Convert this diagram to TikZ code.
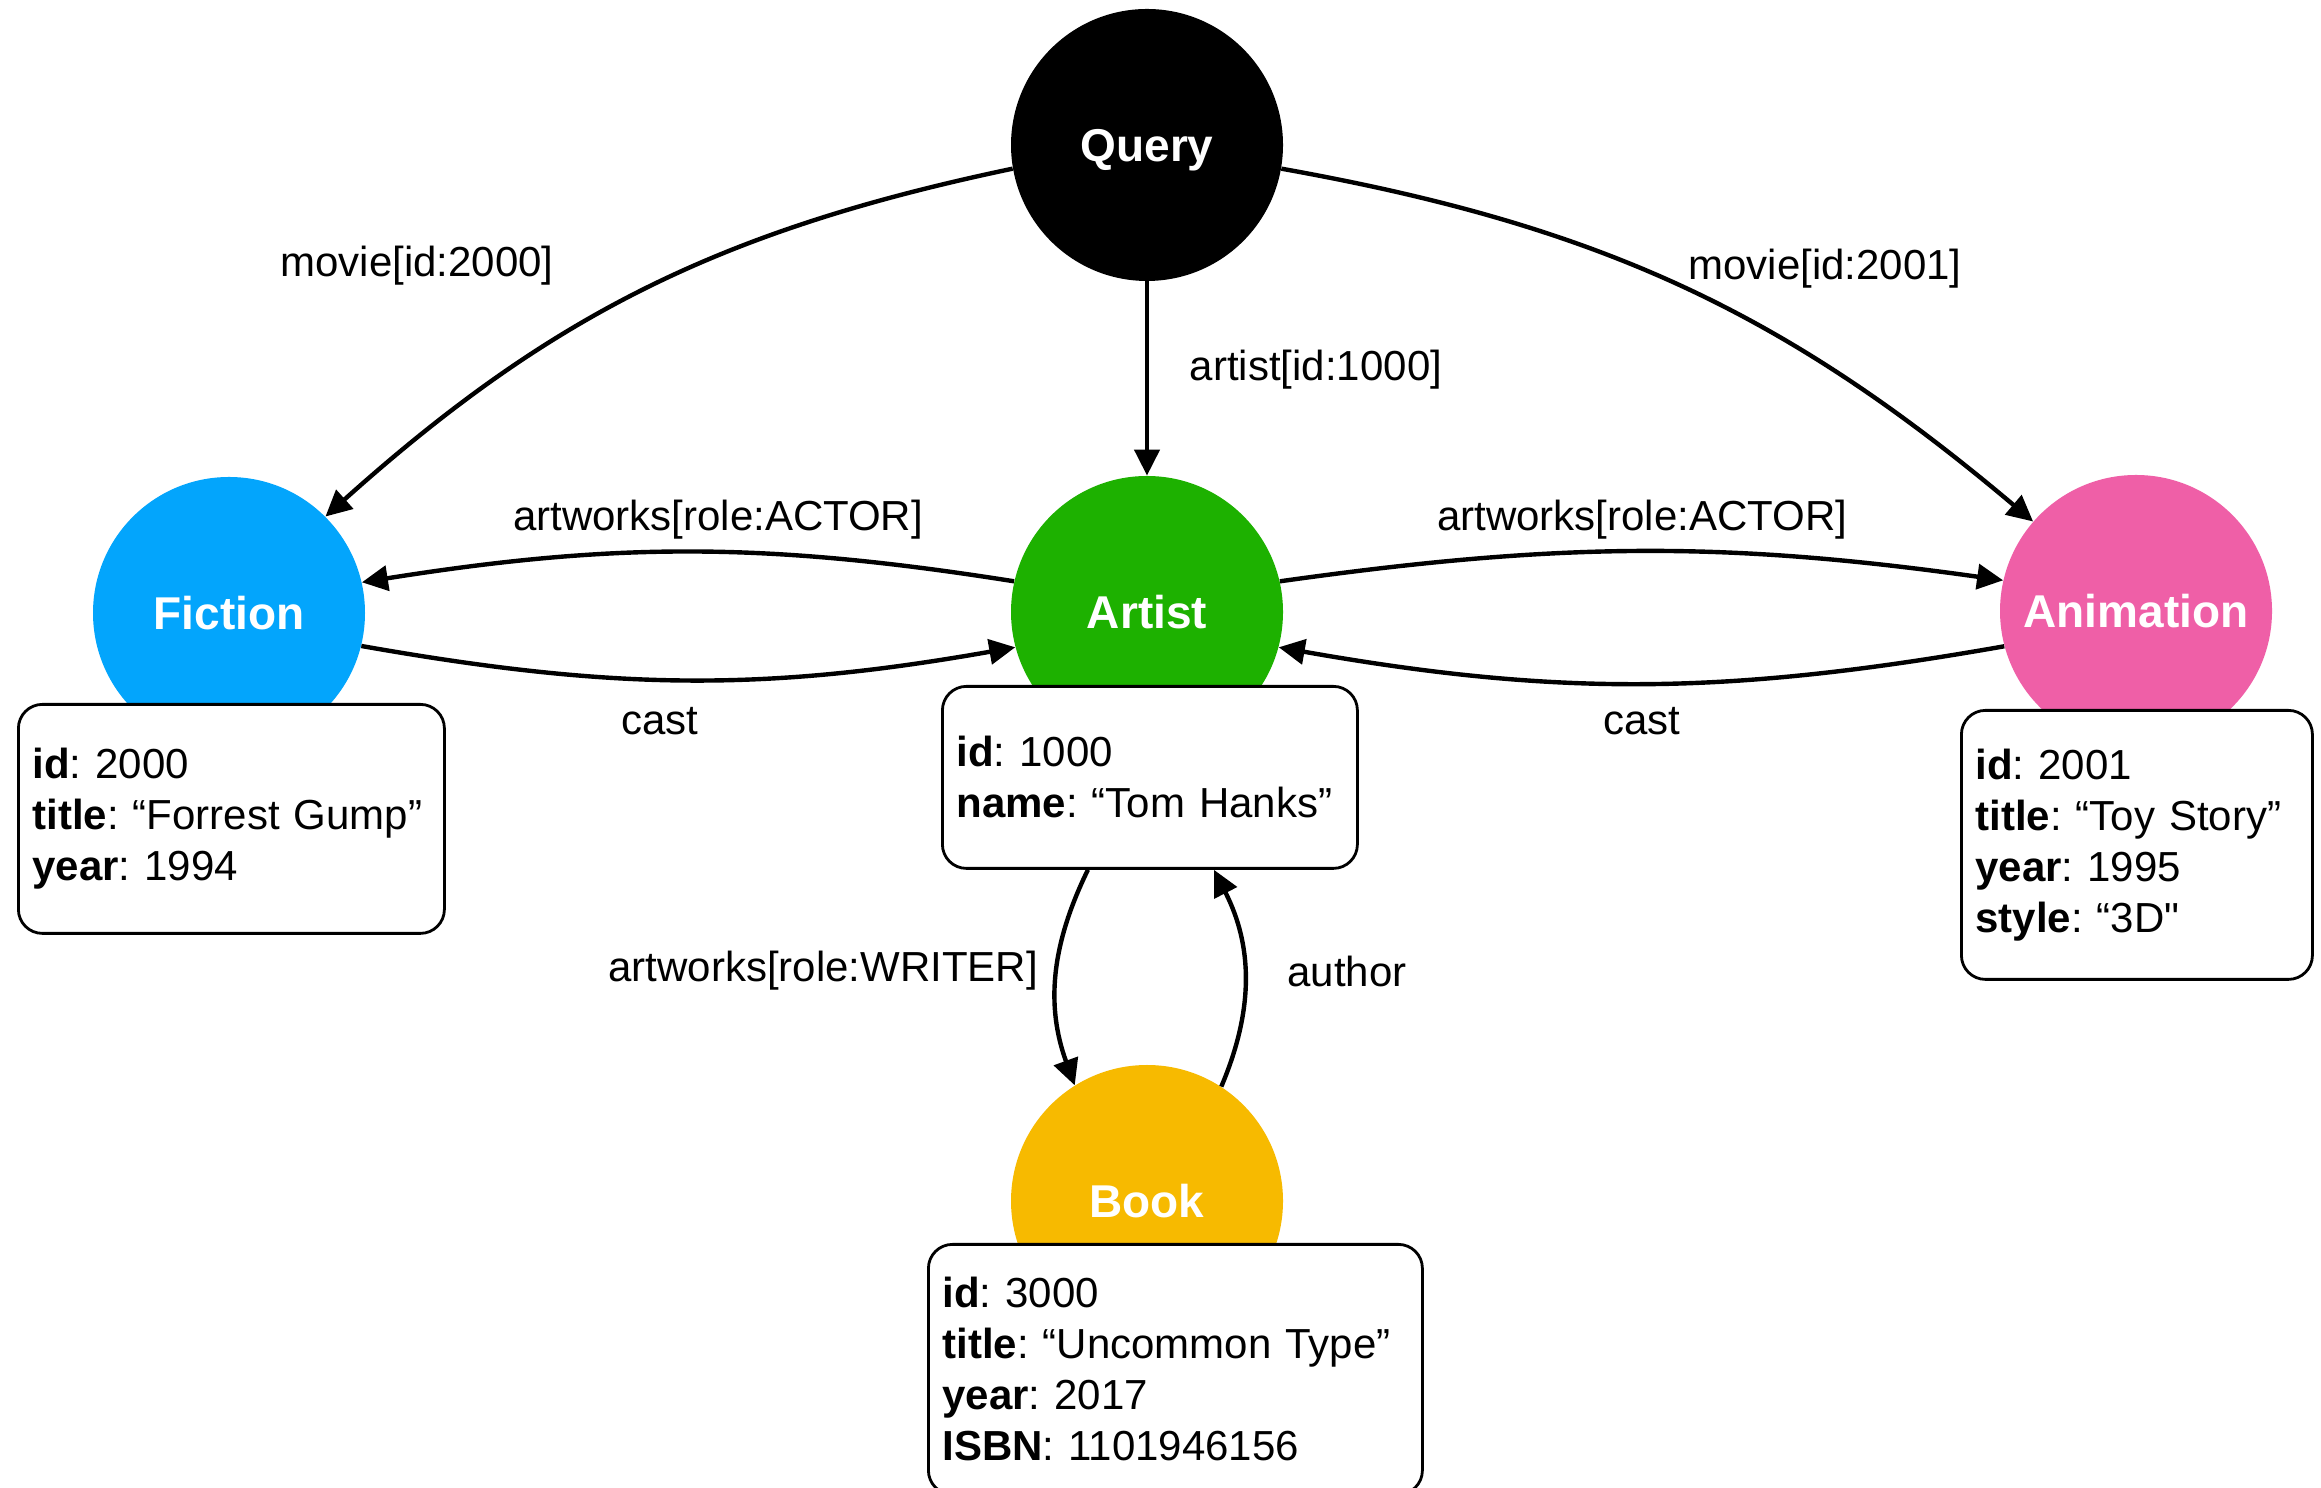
\documentclass[tikz,border=0pt]{standalone}
\usepackage{fontspec}
\setmainfont{Liberation Sans}[Ligatures=TeXOff]
\usetikzlibrary{arrows.meta,calc}
\definecolor{ficblue}{RGB}{3,165,252}
\definecolor{artgreen}{RGB}{29,177,0}
\definecolor{anipink}{RGB}{239,95,167}
\definecolor{bookyellow}{RGB}{247,186,0}
\frenchspacing
\begin{document}
\begin{tikzpicture}[x=0.5pt,y=0.5pt,
  ent/.style={circle, minimum size=136pt, inner sep=0pt, text=white, text depth=0pt, font=\fontsize{23}{27}\selectfont\bfseries},
  propbox/.style={draw, line width=1.4pt, rounded corners=12pt, fill=white, align=left, inner xsep=7pt, inner ysep=0pt, anchor=north west, font=\fontsize{21}{25.5}\selectfont},
  lbl/.style={font=\fontsize{21}{25}\selectfont, inner sep=1pt},
  conn/.style={line width=2.2pt, -{Triangle[length=13pt,width=12.5pt]}}]
\fill[white] (0,0) rectangle (2321,1487);
\useasboundingbox (0,0) rectangle (2321,1487);
% entities
\node[ent, fill=black] (query) at (1147,1342) {Query};
\node[ent, fill=ficblue] (fiction) at (229,874) {Fiction};
\node[ent, fill=artgreen] (artist) at (1147,875) {Artist};
\node[ent, fill=anipink] (anim) at (2136,876) {Animation};
\node[ent, fill=bookyellow] (book) at (1147,286) {Book};
% property boxes
\node[propbox, text width=199pt, minimum height=114.5pt] (fbox) at (17,784)
  {\textbf{id}: 2000\\\textbf{title}: “Forrest Gump”\\\textbf{year}: 1994};
\node[propbox, text width=193.5pt, minimum height=91pt] (abox) at (941,802)
  {\textbf{id}: 1000\\\textbf{name}: “Tom Hanks”};
\node[propbox, text width=161.5pt, minimum height=134.5pt] (anbox) at (1960,778)
  {\textbf{id}: 2001\\\textbf{title}: “Toy Story”\\\textbf{year}: 1995\\\textbf{style}: “3D"};
\node[propbox, text width=233pt, minimum height=125pt] (bkbox) at (927,244)
  {\textbf{id}: 3000\\\textbf{title}: “Uncommon Type”\\\textbf{year}: 2017\\\textbf{ISBN}: 1101946156};
% connectors
\draw[conn] (query.190) to[bend right=15] (fiction.45);
\draw[conn] (query.350) to[bend left=15] (anim.139);
\draw[conn] (query.south) -- (artist.north);
\draw[conn] (artist.167) to[out=171,in=9] (fiction.13);
\draw[conn] (fiction.-14) to[out=-10,in=190] (artist.195);
\draw[conn] (artist.13) to[out=8,in=172] (anim.167);
\draw[conn] (anim.195) to[out=190,in=-10] (artist.-15);
\draw[conn] ($(abox.south)+(-62,0)$) to[out=244,in=110] (book.122);
\draw[conn] (book.57) to[out=67,in=-63] ($(abox.south)+(64,0)$);
% labels
\node[lbl] (l1) at (417,1221) {movie[id:2000]};
\node[lbl] (l2) at (1825,1218) {movie[id:2001]};
\node[lbl] (l3) at (1316,1117) {artist[id:1000]};
\node[lbl] (l4) at (718,967) {artworks[role:ACTOR]};
\node[lbl] (l5) at (1642,967) {artworks[role:ACTOR]};
\node[lbl] (l6) at (660,766) {cast};
\node[lbl] (l7) at (1642,766) {cast};
\node[lbl] (l8) at (823,516) {artworks[role:WRITER]};
\node[lbl] (l9) at (1347,516) {author};
\end{tikzpicture}
\end{document}
